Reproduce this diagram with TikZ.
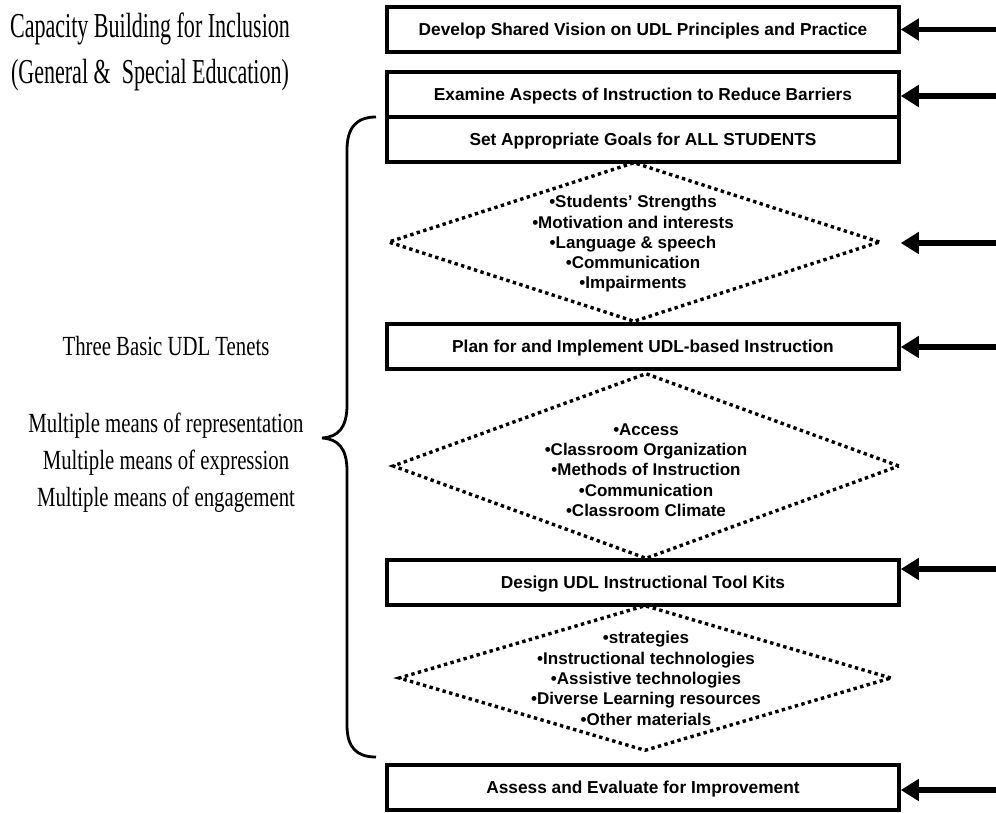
\documentclass[tikz,border=0pt]{standalone}
\usepackage{fontspec}
\setmainfont{Liberation Sans}
\newfontfamily\titlefont[FakeStretch=0.63]{Liberation Serif}
\newfontfamily\tenetfont[FakeStretch=0.75]{Liberation Serif}
\usetikzlibrary{arrows.meta,shapes.geometric}
\begin{document}
\begin{tikzpicture}[x=1pt,y=-1pt,
  stepbox/.style={draw, line width=3.5pt, minimum width=512pt, minimum height=45pt, inner sep=0pt,
    text height=14pt, text depth=2pt, font=\fontsize{17.3}{20}\selectfont\bfseries},
  dbox/.style={draw, diamond, line width=3.4pt, dash pattern=on 3.4pt off 3.4pt, inner sep=0pt},
  dtext/.style={align=center, inner sep=0pt, font=\fontsize{17}{20.3}\selectfont\bfseries},
  arr/.style={line width=5.5pt, -{Triangle[length=18pt,width=21pt]}},
  bracestyle/.style={line width=2.8pt},
  lefttitle/.style={align=center, inner sep=0pt, font=\titlefont\fontsize{35}{46}\selectfont},
  lefttenet/.style={align=center, inner sep=0pt, font=\tenetfont\fontsize{27.7}{37}\selectfont}]
\useasboundingbox (0,0) rectangle (996,813);

% left texts
\node[lefttitle] (title) at (150,52) {Capacity Building for Inclusion\\(General \& \ Special Education)};
\node[lefttenet] (tenets) at (166,424) {Three Basic UDL Tenets\\[40pt]Multiple means of representation\\Multiple means of expression\\Multiple means of engagement};

% brace
\draw[bracestyle] (376,117) .. controls (357,117) and (347,127) .. (347,150) -- (347,405)
  .. controls (347,428) and (338,437) .. (322,438)
  .. controls (338,439) and (347,448) .. (347,471) -- (347,725)
  .. controls (347,748) and (357,757) .. (376,757);

% diamonds
\node[dbox, minimum width=492pt, minimum height=160pt] (d1) at (634,242) {};
\node[dbox, minimum width=507pt, minimum height=186pt] (d2) at (646,466) {};
\node[dbox, minimum width=493pt, minimum height=146pt] (d3) at (645,678) {};

\node[dtext] (t1) at (633,244) {•Students’ Strengths\\•Motivation and interests\\•Language \& speech\\•Communication\\•Impairments};
\node[dtext] (t2) at (646,470) {•Access\\•Classroom Organization\\•Methods of Instruction\\•Communication\\•Classroom Climate};
\node[dtext] (t3) at (646,678.5) {•strategies\\•Instructional technologies\\•Assistive technologies\\•Diverse Learning resources\\•Other materials};

% boxes
\node[stepbox] (b1) at (643,29.5) {Develop Shared Vision on UDL Principles and Practice};
\node[stepbox] (b2) at (643,94.5) {Examine Aspects of Instruction to Reduce Barriers};
\node[stepbox] (b3) at (643,139.5) {Set Appropriate Goals for ALL STUDENTS};
\node[stepbox] (b4) at (643,346.5) {Plan for and Implement UDL-based Instruction};
\node[stepbox] (b5) at (643,582.5) {Design UDL Instructional Tool Kits};
\node[stepbox] (b6) at (643,787.5) {Assess and Evaluate for Improvement};

% arrow starts
\coordinate (s1) at (998,29.5);
\coordinate (s2) at (998,96);
\coordinate (s3) at (998,243);
\coordinate (s4) at (998,347);
\coordinate (s5) at (998,569);
\coordinate (s6) at (998,790);

\draw[arr] (s1) -- (b1.east |- s1);
\draw[arr] (s2) -- (b2.east |- s2);
\draw[arr] (s3) -- (b4.east |- s3);
\draw[arr] (s4) -- (b4.east |- s4);
\draw[arr] (s5) -- (b5.east |- s5);
\draw[arr] (s6) -- (b6.east |- s6);
\end{tikzpicture}
\end{document}
